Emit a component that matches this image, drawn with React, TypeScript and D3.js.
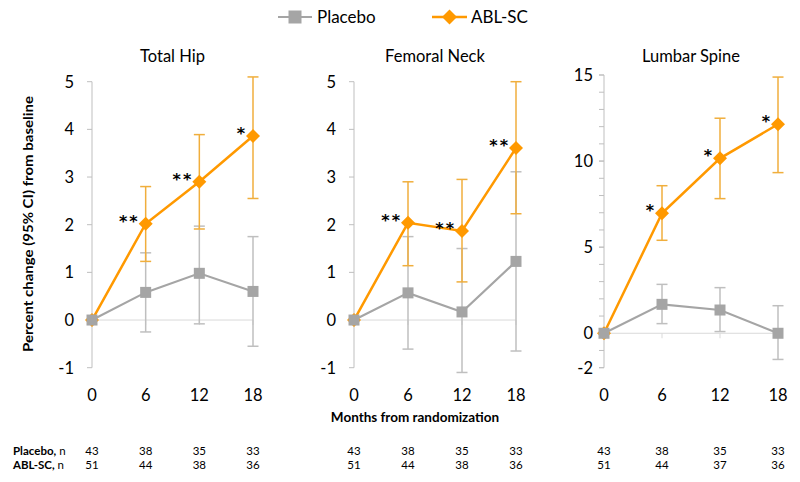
import React from "react";
import * as d3 from "d3";

// x categories (months from randomization)
const months = [0, 6, 12, 18];

// Total Hip
const hipPlacebo = [0, 0.58, 0.98, 0.6];
const hipPlaceboLow = [0, -0.25, -0.08, -0.55];
const hipPlaceboHigh = [0, 1.41, 1.97, 1.75];
const hipAbl = [0, 2.02, 2.9, 3.86];
const hipAblLow = [0, 1.23, 1.91, 2.55];
const hipAblHigh = [0, 2.8, 3.89, 5.1];
const hipStars = ["", "**", "**", "*"];
const hipPlaceboN = [43, 38, 35, 33];
const hipAblN = [51, 44, 38, 36];

// Femoral Neck
const neckPlacebo = [0, 0.57, 0.17, 1.23];
const neckPlaceboLow = [0, -0.61, -1.1, -0.65];
const neckPlaceboHigh = [0, 1.75, 1.5, 3.11];
const neckAbl = [0, 2.04, 1.87, 3.61];
const neckAblLow = [0, 1.14, 0.8, 2.23];
const neckAblHigh = [0, 2.9, 2.95, 5.0];
const neckStars = ["", "**", "**", "**"];
const neckPlaceboN = [43, 38, 35, 33];
const neckAblN = [51, 44, 38, 36];

// Lumbar Spine
const spinePlacebo = [0, 1.68, 1.35, 0];
const spinePlaceboLow = [0, 0.56, 0.1, -1.52];
const spinePlaceboHigh = [0, 2.84, 2.65, 1.6];
const spineAbl = [0, 6.97, 10.16, 12.14];
const spineAblLow = [0, 5.4, 7.82, 9.33];
const spineAblHigh = [0, 8.57, 12.49, 14.88];
const spineStars = ["", "*", "*", "*"];
const spinePlaceboN = [43, 38, 35, 33];
const spineAblN = [51, 44, 37, 36];

const hipTicks = [-1, 0, 1, 2, 3, 4, 5];
const spineTicks = [-2, 0, 5, 10, 15];

const FONT = "Lato, 'Open Sans', sans-serif";
const ORANGE = "#FF9900";
const ORANGE_ERR = "#F0AE3C";
const GRAY = "#A5A5A5";
const GRAY_ERR = "#BFBFBF";
const AXIS = "#BFBFBF";

type Series = { v: number[]; lo: number[]; hi: number[] };

// diamond marker, r = half diagonal
const diamondPath = (r: number) => {
  const p = d3.path();
  p.moveTo(0, -r);
  p.lineTo(r, 0);
  p.lineTo(0, r);
  p.lineTo(-r, 0);
  p.closePath();
  return p.toString();
};

function Panel(props: {
  title: string;
  xRange: [number, number];
  yDomain: [number, number];
  yRange: [number, number];
  ticks: number[];
  minor: number[];
  labelGap: number;
  placebo: Series;
  abl: Series;
  stars: string[];
  placeboN: number[];
  ablN: number[];
}) {
  const { title, xRange, yDomain, yRange, ticks, minor, labelGap, placebo, abl, stars } = props;
  const x = d3.scaleLinear().domain([0, 18]).range(xRange);
  const y = d3.scaleLinear().domain(yDomain).range(yRange);
  const line = d3
    .line<number>()
    .x((d, i) => x(months[i]))
    .y((d) => y(d));

  const errBars = (s: Series, color: string) =>
    months.map((m, i) =>
      i === 0 ? null : (
        <g key={i} stroke={color} strokeWidth={1.5}>
          <line x1={x(m)} x2={x(m)} y1={y(s.lo[i])} y2={y(s.hi[i])} />
          <line x1={x(m) - 5.5} x2={x(m) + 5.5} y1={y(s.lo[i])} y2={y(s.lo[i])} />
          <line x1={x(m) - 5.5} x2={x(m) + 5.5} y1={y(s.hi[i])} y2={y(s.hi[i])} />
        </g>
      )
    );

  const diamond = diamondPath(7);
  const y0 = y.range()[0];
  const y1 = y.range()[1];

  return (
    <g>
      <text x={(xRange[0] + xRange[1]) / 2} y={62} textAnchor="middle" fontSize={16.5} fill="#000">
        {title}
      </text>
      {/* y axis */}
      <line x1={x(0)} x2={x(0)} y1={y0} y2={y1} stroke={AXIS} />
      {minor.map((t) => (
        <line key={"m" + t} x1={x(0) - 5} x2={x(0)} y1={y(t)} y2={y(t)} stroke={AXIS} />
      ))}
      {ticks.map((t) => (
        <g key={t}>
          <line x1={x(0) - 5} x2={x(0)} y1={y(t)} y2={y(t)} stroke={AXIS} />
          <text x={x(0) - labelGap} y={y(t)} dy="0.36em" textAnchor="end" fontSize={16.5} fill="#000">
            {t}
          </text>
        </g>
      ))}
      {/* zero line */}
      <line x1={x(0)} x2={x(18)} y1={y(0)} y2={y(0)} stroke="#D9D9D9" />
      {months.slice(1).map((m) => (
        <line key={m} x1={x(m)} x2={x(m)} y1={y(0)} y2={y(0) + 5} stroke="#D9D9D9" />
      ))}
      {months.map((m) => (
        <text key={m} x={x(m)} y={401} textAnchor="middle" fontSize={16.5} fill="#000">
          {m}
        </text>
      ))}
      {errBars(placebo, GRAY_ERR)}
      {errBars(abl, ORANGE_ERR)}
      <path d={line(abl.v) || ""} fill="none" stroke={ORANGE} strokeWidth={2.5} />
      <path d={line(placebo.v) || ""} fill="none" stroke={GRAY} strokeWidth={2.2} />
      {abl.v.map((v, i) => (
        <path key={i} d={diamond} transform={`translate(${x(months[i])},${y(v)})`} fill={ORANGE} />
      ))}
      {placebo.v.map((v, i) => (
        <rect key={i} x={x(months[i]) - 5.5} y={y(v) - 5.5} width={11} height={11} fill={GRAY} />
      ))}
      {stars.map((s, i) => (
        <text
          key={i}
          x={x(months[i]) - 6}
          y={y(abl.v[i]) + 3}
          textAnchor="end"
          fontFamily="'DejaVu Sans', sans-serif"
          fontSize={16}
          fontWeight="bold"
          letterSpacing={2}
          fill="#000"
        >
          {s}
        </text>
      ))}
      {/* n at risk */}
      {months.map((m, i) => (
        <g key={"n" + m} fontSize={11.5} fill="#000">
          <text x={x(m)} y={454.5} textAnchor="middle">{props.placeboN[i]}</text>
          <text x={x(m)} y={468.5} textAnchor="middle">{props.ablN[i]}</text>
        </g>
      ))}
    </g>
  );
}

export default function App() {
  return (
    <svg width={800} height={482} style={{ position: "absolute", left: 0, top: 0, background: "#fff" }} fontFamily={FONT}>
      <rect width={800} height={482} fill="#fff" />
      {/* legend */}
      <line x1={278} x2={312} y1={17} y2={17} stroke={GRAY} strokeWidth={2.2} />
      <rect x={288.5} y={10.5} width={13} height={13} fill={GRAY} />
      <text x={317} y={17} dy="0.36em" fontSize={17} fill="#000">Placebo</text>
      <line x1={432} x2={467} y1={17} y2={17} stroke={ORANGE} strokeWidth={2.5} />
      <path d={diamondPath(7.5)} transform="translate(449.5,17)" fill={ORANGE} />
      <text x={471} y={17} dy="0.36em" fontSize={17} fill="#000">ABL-SC</text>

      <text
        transform="translate(33,224) rotate(-90)"
        textAnchor="middle"
        fontSize={13.5}
        fontWeight="bold"
        fill="#000"
        textLength={256}
        lengthAdjust="spacingAndGlyphs"
      >
        Percent change (95% CI) from baseline
      </text>

      <Panel
        title="Total Hip"
        xRange={[92, 253]}
        yDomain={[-1, 5]}
        yRange={[367.7, 81.7]}
        ticks={hipTicks}
        minor={[]}
        labelGap={18}
        placebo={{ v: hipPlacebo, lo: hipPlaceboLow, hi: hipPlaceboHigh }}
        abl={{ v: hipAbl, lo: hipAblLow, hi: hipAblHigh }}
        stars={hipStars}
        placeboN={hipPlaceboN}
        ablN={hipAblN}
      />
      <Panel
        title="Femoral Neck"
        xRange={[354, 516]}
        yDomain={[-1, 5]}
        yRange={[367.7, 81.7]}
        ticks={hipTicks}
        minor={[]}
        labelGap={18}
        placebo={{ v: neckPlacebo, lo: neckPlaceboLow, hi: neckPlaceboHigh }}
        abl={{ v: neckAbl, lo: neckAblLow, hi: neckAblHigh }}
        stars={neckStars}
        placeboN={neckPlaceboN}
        ablN={neckAblN}
      />
      <Panel
        title="Lumbar Spine"
        xRange={[604, 778]}
        yDomain={[-2, 15]}
        yRange={[367.7, 75]}
        ticks={spineTicks}
        minor={d3.range(-2, 16)}
        labelGap={11}
        placebo={{ v: spinePlacebo, lo: spinePlaceboLow, hi: spinePlaceboHigh }}
        abl={{ v: spineAbl, lo: spineAblLow, hi: spineAblHigh }}
        stars={spineStars}
        placeboN={spinePlaceboN}
        ablN={spineAblN}
      />

      <text x={415} y={422} textAnchor="middle" fontSize={13.5} fontWeight="bold" fill="#000">
        Months from randomization
      </text>
      <g fontSize={11.5} fill="#000">
        <text x={13} y={454.5}>
          <tspan fontWeight="bold">Placebo,</tspan> n
        </text>
        <text x={13} y={468.5}>
          <tspan fontWeight="bold">ABL-SC,</tspan> n
        </text>
      </g>
    </svg>
  );
}
